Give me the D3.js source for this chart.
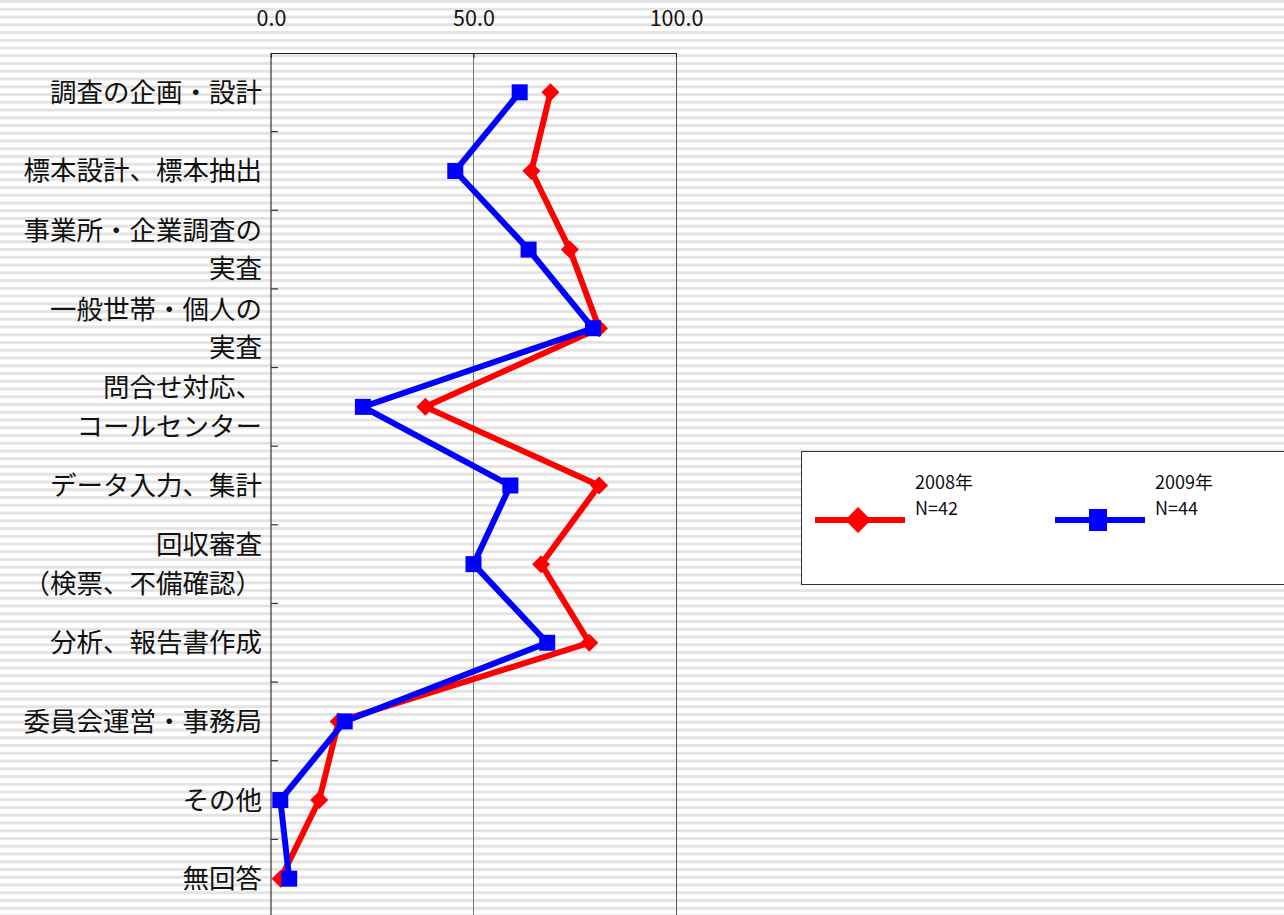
<!DOCTYPE html>
<html>
<head>
<meta charset="utf-8">
<script src="https://cdn.jsdelivr.net/npm/d3@7"></script>
<style>
  html, body { margin: 0; padding: 0; background: #fff; overflow: hidden; }
  svg { display: block; }
</style>
</head>
<body>
<svg id="chart" width="1284" height="915"></svg>
<script>
// Work areas surveyed (multi-line labels split on "\n")
const categories = [
  "調査の企画・設計",
  "標本設計、標本抽出",
  "事業所・企業調査の\n実査",
  "一般世帯・個人の\n実査",
  "問合せ対応、\nコールセンター",
  "データ入力、集計",
  "回収審査\n（検票、不備確認）",
  "分析、報告書作成",
  "委員会運営・事務局",
  "その他",
  "無回答"
];

// Share of respondents (%)
const values2008 = [69.0, 64.3, 73.8, 81.0, 38.1, 81.0, 66.7, 78.6, 16.7, 11.9, 2.4];
const values2009 = [61.4, 45.5, 63.6, 79.5, 22.7, 59.1, 50.0, 68.2, 18.2, 2.3, 4.5];

const xTicks = [0, 50, 100];
const seriesNames = [["2008年", "N=42"], ["2009年", "N=44"]];

const svg = d3.select("#chart");
const W = 1284, H = 915;
const FONT = "'Noto Sans CJK JP', 'Noto Sans', sans-serif";

// striped backdrop
const defs = svg.append("defs");
const pat = defs.append("pattern")
  .attr("id", "stripes").attr("patternUnits", "userSpaceOnUse")
  .attr("width", 8).attr("height", 7.75);
pat.append("rect").attr("width", 8).attr("height", 7.75).attr("fill", "#ffffff");
pat.append("rect").attr("y", 0).attr("width", 8).attr("height", 3).attr("fill", "#e3e3e3");
svg.append("rect").attr("width", W).attr("height", H).attr("fill", "url(#stripes)");

const plot = { left: 271, right: 676, top: 53, bottom: 918 };

const x = d3.scaleLinear().domain([0, 100]).range([plot.left, plot.right]);
const y = d3.scaleBand().domain(categories).range([plot.top, plot.bottom]).padding(0);
const yc = c => y(c) + y.bandwidth() / 2;

// vertical gridlines
svg.append("g").selectAll("line").data(xTicks.slice(1)).join("line")
  .attr("x1", d => x(d)).attr("x2", d => x(d))
  .attr("y1", plot.top).attr("y2", plot.bottom)
  .attr("stroke", d => d === 100 ? "#555" : "#777").attr("stroke-width", 1)
  .attr("shape-rendering", "crispEdges");

// top frame line
svg.append("line")
  .attr("x1", plot.left).attr("x2", plot.right)
  .attr("y1", plot.top + 0.5).attr("y2", plot.top + 0.5)
  .attr("stroke", "#222").attr("stroke-width", 1.2);

// top value axis
const xAxis = d3.axisTop(x).tickValues(xTicks).tickFormat(d3.format(".1f")).tickSize(0).tickPadding(0);
const gx = svg.append("g").attr("transform", `translate(0,${plot.top})`).call(xAxis);
gx.select(".domain").remove();
gx.selectAll("text")
  .attr("y", -27)
  .attr("font-family", FONT).attr("font-size", 21.5).attr("fill", "#111");
// small tick marks hanging from the top frame
gx.selectAll(".tick line").attr("y1", 0).attr("y2", 5).attr("stroke", "#222");

// category axis: ticks at band boundaries pointing inward
const boundaries = categories.slice(1).map(c => y(c));
svg.append("line")
  .attr("x1", plot.left).attr("x2", plot.left)
  .attr("y1", plot.top).attr("y2", plot.bottom)
  .attr("stroke", "#333").attr("stroke-width", 1.2);
svg.append("g").selectAll("line").data(boundaries).join("line")
  .attr("x1", plot.left).attr("x2", plot.left + 7)
  .attr("y1", d => d).attr("y2", d => d)
  .attr("stroke", "#333").attr("stroke-width", 1.2);

// category labels
const lab = svg.append("g").attr("font-family", FONT).attr("font-size", 26.5).attr("fill", "#111")
  .attr("text-anchor", "end");
const lh = 38.5;
categories.forEach(c => {
  const lines = c.split("\n");
  lines.forEach((s, i) => {
    lab.append("text")
      .attr("x", plot.left - 9)
      .attr("y", yc(c) + (i - (lines.length - 1) / 2) * lh)
      .attr("dy", "0.36em")
      .text(s);
  });
});

// series lines
const line = d3.line().x(d => x(d.v)).y(d => yc(d.c));
const data2008 = categories.map((c, i) => ({ c, v: values2008[i] }));
const data2009 = categories.map((c, i) => ({ c, v: values2009[i] }));

const red = "#ff0000", blue = "#0000ff";
const diamond = (cx, cy, r) => `M${cx},${cy - r}L${cx + r},${cy}L${cx},${cy + r}L${cx - r},${cy}Z`;

svg.append("path").datum(data2008).attr("d", line)
  .attr("fill", "none").attr("stroke", red).attr("stroke-width", 6).attr("stroke-linejoin", "miter");
svg.append("g").selectAll("path").data(data2008).join("path")
  .attr("d", d => diamond(x(d.v), yc(d.c), 9)).attr("fill", red);

svg.append("path").datum(data2009).attr("d", line)
  .attr("fill", "none").attr("stroke", blue).attr("stroke-width", 6).attr("stroke-linejoin", "miter");
svg.append("g").selectAll("rect").data(data2009).join("rect")
  .attr("x", d => x(d.v) - 8).attr("y", d => yc(d.c) - 8)
  .attr("width", 16).attr("height", 16).attr("fill", blue);

// legend
const lg = svg.append("g");
lg.append("rect").attr("x", 801.5).attr("y", 451.5).attr("width", 500).attr("height", 133)
  .attr("fill", "#fff").attr("stroke", "#333").attr("stroke-width", 1);

const legendItems = [
  { x0: 815, color: red, mark: "diamond", text: seriesNames[0] },
  { x0: 1055, color: blue, mark: "square", text: seriesNames[1] }
];
legendItems.forEach(it => {
  const ly = 520;
  lg.append("line").attr("x1", it.x0).attr("x2", it.x0 + 90)
    .attr("y1", ly).attr("y2", ly).attr("stroke", it.color).attr("stroke-width", 6);
  const mx = it.x0 + 43;
  if (it.mark === "diamond") {
    lg.append("path").attr("d", diamond(mx, ly, 13)).attr("fill", it.color);
  } else {
    lg.append("rect").attr("x", mx - 9).attr("y", ly - 11).attr("width", 18).attr("height", 22).attr("fill", it.color);
  }
  const t = lg.append("text").attr("x", it.x0 + 100).attr("y", 489)
    .attr("font-family", FONT).attr("font-size", 18).attr("fill", "#111");
  it.text.forEach((s, i) => {
    t.append("tspan").attr("x", it.x0 + 100).attr("dy", i === 0 ? 0 : 26).text(s);
  });
});
</script>
</body>
</html>
